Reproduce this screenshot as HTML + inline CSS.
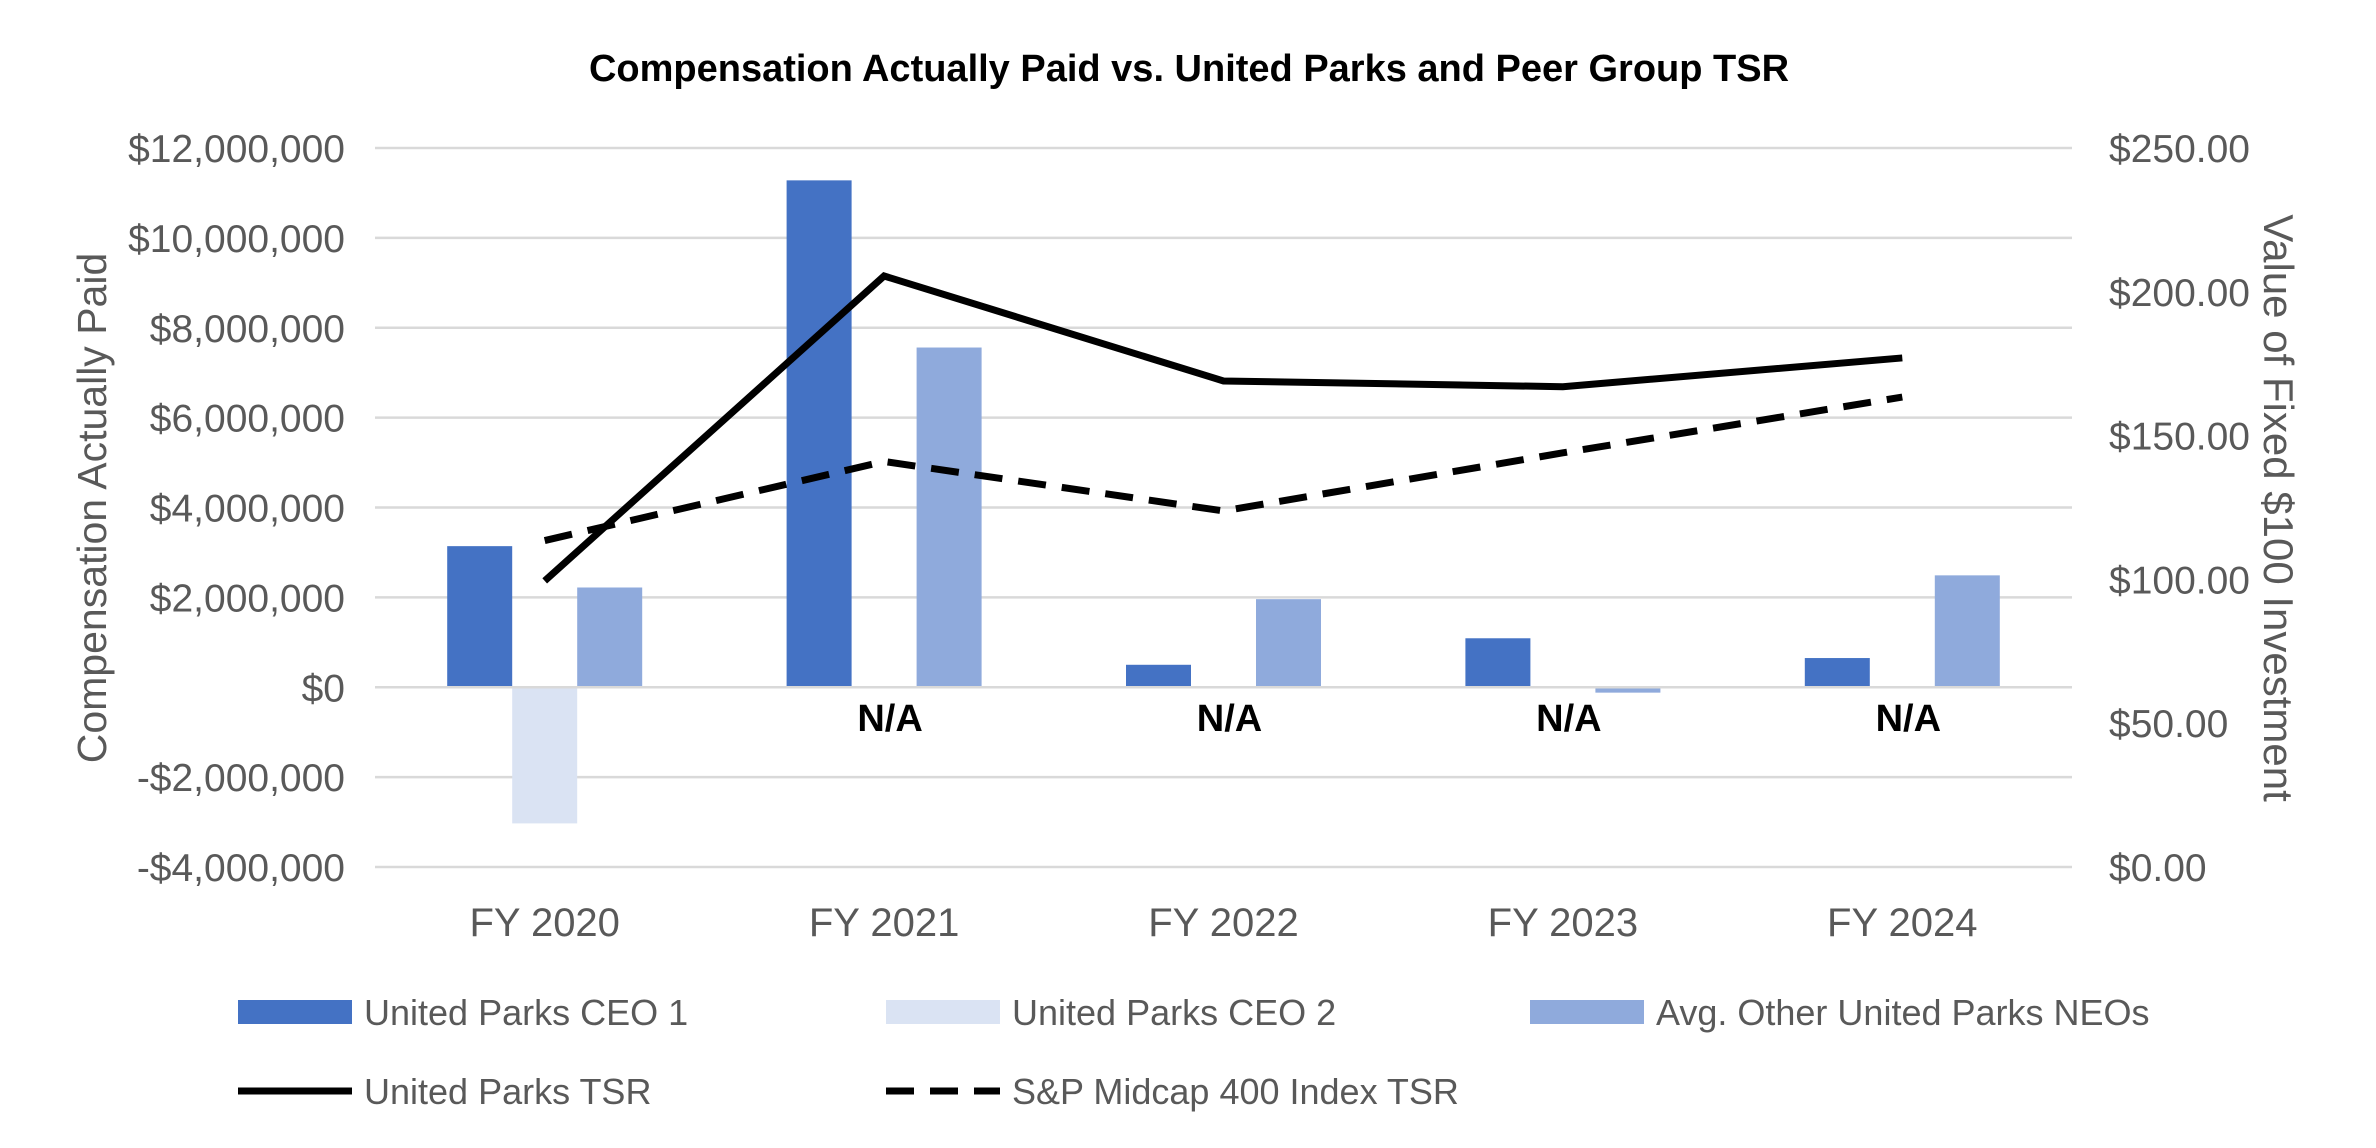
<!DOCTYPE html>
<html><head><meta charset="utf-8"><style>
html,body{margin:0;padding:0;background:#fff;}
svg{display:block;font-family:"Liberation Sans",sans-serif;}
</style></head><body>
<svg id="chart" width="2376" height="1148" viewBox="0 0 2376 1148"></svg>
<script>
const categories = ["FY 2020","FY 2021","FY 2022","FY 2023","FY 2024"];
const ceo1 = [3140000, 11280000, 500000, 1090000, 650000];
const ceo2 = [-3030000, null, null, null, null];
const avgNeo = [2220000, 7560000, 1960000, -120000, 2490000];
const upTsr = [99.5, 205.5, 169, 167, 177];
const spTsr = [113.5, 141, 123.8, 144, 163.4];
const leftTicks = [-4000000,-2000000,0,2000000,4000000,6000000,8000000,10000000,12000000];
const rightTicks = [0,50,100,150,200,250];
const naLabels = [null,"N/A","N/A","N/A","N/A"];

const NS="http://www.w3.org/2000/svg";
const svg=document.getElementById('chart');
const X0=375, X1=2072, YT=148, YB=867;
const band=(X1-X0)/categories.length;
const yL=v=>YB-(v-(-4000000))/(16000000)*(YB-YT);
const yR=v=>YB-v/250*(YB-YT);
const xC=i=>X0+band*(i+0.5);
function mk(tag,attrs,parent){const e=document.createElementNS(NS,tag);for(const k in attrs)e.setAttribute(k,attrs[k]);(parent||svg).appendChild(e);return e;}
function fmt(v){const s=Math.abs(v).toLocaleString('en-US');return (v<0?'-$':'$')+s;}

let t=mk('text',{x:1189,y:81,'text-anchor':'middle','font-size':38,'font-weight':'bold',fill:'#000'});
t.textContent="Compensation Actually Paid vs. United Parks and Peer Group TSR";



leftTicks.forEach(v=>{
  const g=mk('line',{x1:X0,x2:X1,y1:yL(v),y2:yL(v),stroke:'#d9d9d9','stroke-width':2.5});
  
  
  const l=mk('text',{x:345,y:yL(v)+14,'text-anchor':'end','font-size':39,fill:'#595959'});
  l.textContent=fmt(v);
  
  
});
rightTicks.forEach(v=>{
  const l=mk('text',{x:2109,y:yR(v)+14,'text-anchor':'start','font-size':39,fill:'#595959'});
  l.textContent='$'+v.toFixed(2);
  
  
});
let a=mk('text',{x:0,y:0,transform:'translate(106,508) rotate(-90)','text-anchor':'middle','font-size':41,fill:'#595959'});
a.textContent="Compensation Actually Paid";


a=mk('text',{x:0,y:0,transform:'translate(2264,508) rotate(90)','text-anchor':'middle','font-size':42,fill:'#595959'});
a.textContent="Value of Fixed $100 Investment";



const bw=65;
const series=[[ceo1,'#4472c4','bar-ceo1'],[ceo2,'#dae3f3','bar-ceo2'],[avgNeo,'#8faadc','bar-avg-neo']];
categories.forEach((c,i)=>{
  series.forEach((s,j)=>{
    const v=s[0][i]; if(v==null) return;
    const x=xC(i)-1.5*bw+j*bw;
    const y0=yL(0), y1=yL(v);
    const r=mk('rect',{x:x,y:Math.min(y0,y1),width:bw,height:Math.abs(y1-y0),fill:s[1]});
    
    
  });
  const l=mk('text',{x:xC(i),y:936,'text-anchor':'middle','font-size':40,fill:'#595959'});
  l.textContent=c;
  
  
  if(naLabels[i]){
    const n=mk('text',{x:xC(i)+6,y:731,'text-anchor':'middle','font-size':38,'font-weight':'bold',fill:'#000'});
    n.textContent=naLabels[i];
    
    
  }
});
const zl=mk('line',{x1:X0,x2:X1,y1:yL(0),y2:yL(0),stroke:'#d9d9d9','stroke-width':2.5});



let p=mk('polyline',{points:upTsr.map((v,i)=>xC(i)+','+yR(v)).join(' '),fill:'none',stroke:'#000','stroke-width':7,'stroke-linejoin':'miter'});


p=mk('polyline',{points:spTsr.map((v,i)=>xC(i)+','+yR(v)).join(' '),fill:'none',stroke:'#000','stroke-width':7,'stroke-dasharray':'28 16'});



function legend(x,y,kind,color,label,name){
  const g=mk('g',{});
  
  
  if(kind==='rect') mk('rect',{x:x,y:y-12,width:114,height:24,fill:color},g);
  else mk('line',{x1:x,x2:x+114,y1:y,y2:y,stroke:'#000','stroke-width':7,'stroke-dasharray':kind==='dash'?'28 16':'none'},g);
  const tx=mk('text',{x:x+126,y:y+13,'font-size':36,fill:'#595959'},g);
  tx.textContent=label;
}
legend(238,1012,'rect','#4472c4','United Parks CEO 1','legend-ceo1');
legend(886,1012,'rect','#dae3f3','United Parks CEO 2','legend-ceo2');
legend(1530,1012,'rect','#8faadc','Avg. Other United Parks NEOs','legend-avg-neo');
legend(238,1091,'solid','#000','United Parks TSR','legend-united-parks-tsr');
legend(886,1091,'dash','#000','S&P Midcap 400 Index TSR','legend-sp-midcap-tsr');
</script>
</body></html>
